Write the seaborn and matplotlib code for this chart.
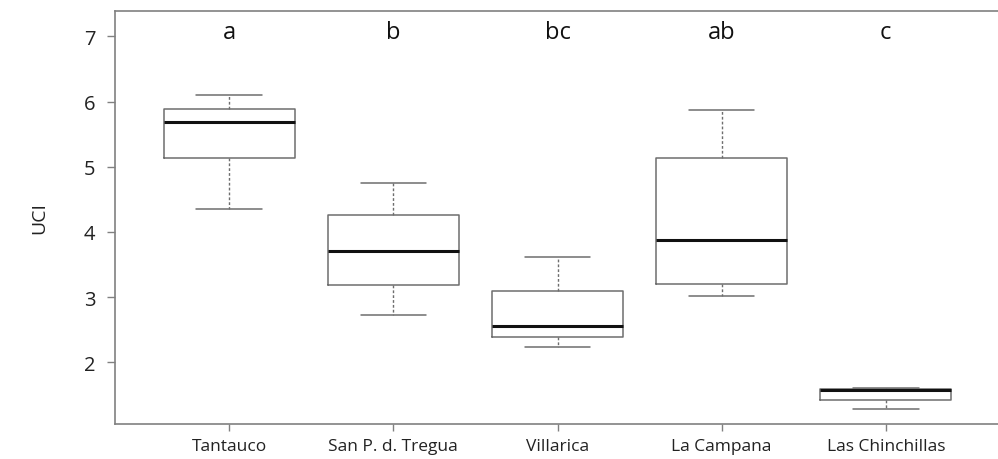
import numpy as np
import pandas as pd
import matplotlib
matplotlib.use("Agg")
import matplotlib.pyplot as plt
import seaborn as sns

# Five-number summaries (min, Q1, median, Q3, max)
sites = ["Tantauco", "San P. d. Tregua", "Villarica", "La Campana", "Las Chinchillas"]
tantauco = [4.36, 5.13, 5.69, 5.88, 6.10]
tregua = [2.73, 3.19, 3.71, 4.26, 4.75]
villarica = [2.23, 2.39, 2.55, 3.09, 3.62]
campana = [3.02, 3.20, 3.88, 5.13, 5.87]
chinchillas = [1.28, 1.42, 1.57, 1.59, 1.60]
letters = ["a", "b", "bc", "ab", "c"]
yticks = [2, 3, 4, 5, 6, 7]

values = [tantauco, tregua, villarica, campana, chinchillas]
df = pd.DataFrame({
    "site": np.repeat(sites, [len(v) for v in values]),
    "UCI": np.concatenate(values),
})

sns.set_theme(style="white")
plt.rcParams["font.family"] = ["Open Sans", "DejaVu Sans"]

fig = plt.figure(figsize=(9.98, 4.6), dpi=100)
ax = fig.add_axes([115 / 998, 35 / 460, 885 / 998, 413 / 460])

edge = "#6e6e6e"
sns.boxplot(
    data=df, x="site", y="UCI", order=sites, ax=ax,
    whis=(0, 100), width=0.8, fill=False, color=edge, linewidth=1.1,
    boxprops=dict(color=edge, linewidth=1.1),
    whiskerprops=dict(color=edge, linestyle=(0, (2, 1.5)), linewidth=1.0),
    capprops=dict(color=edge, linewidth=1.1),
    medianprops=dict(color="#111111", linewidth=2.2),
    capwidths=0.4,
)

ax.set_xlim(-0.696, 4.696)
ax.set_ylim(1.054, 7.39)
ax.set_yticks(yticks)
ax.set_yticklabels([str(t) for t in yticks], fontsize=14.5, color="#222222")
ax.tick_params(axis="x", labelsize=12.5, labelcolor="#222222", length=5,
               width=1, color="#808080", direction="out", bottom=True, pad=5)
ax.tick_params(axis="y", length=6, width=1, color="#808080", direction="out",
               left=True, pad=8)
ax.set_xlabel("")
ax.set_ylabel("UCI", fontsize=14, color="#222222", labelpad=26)

for s in ax.spines.values():
    s.set_color("#808080")
    s.set_linewidth(1.2)
ax.spines["right"].set_visible(False)

for i, lab in enumerate(letters):
    ax.text(i, 6.98, lab, ha="center", va="baseline", fontsize=17, color="#111111")

fig.savefig("out.png", dpi=100)
